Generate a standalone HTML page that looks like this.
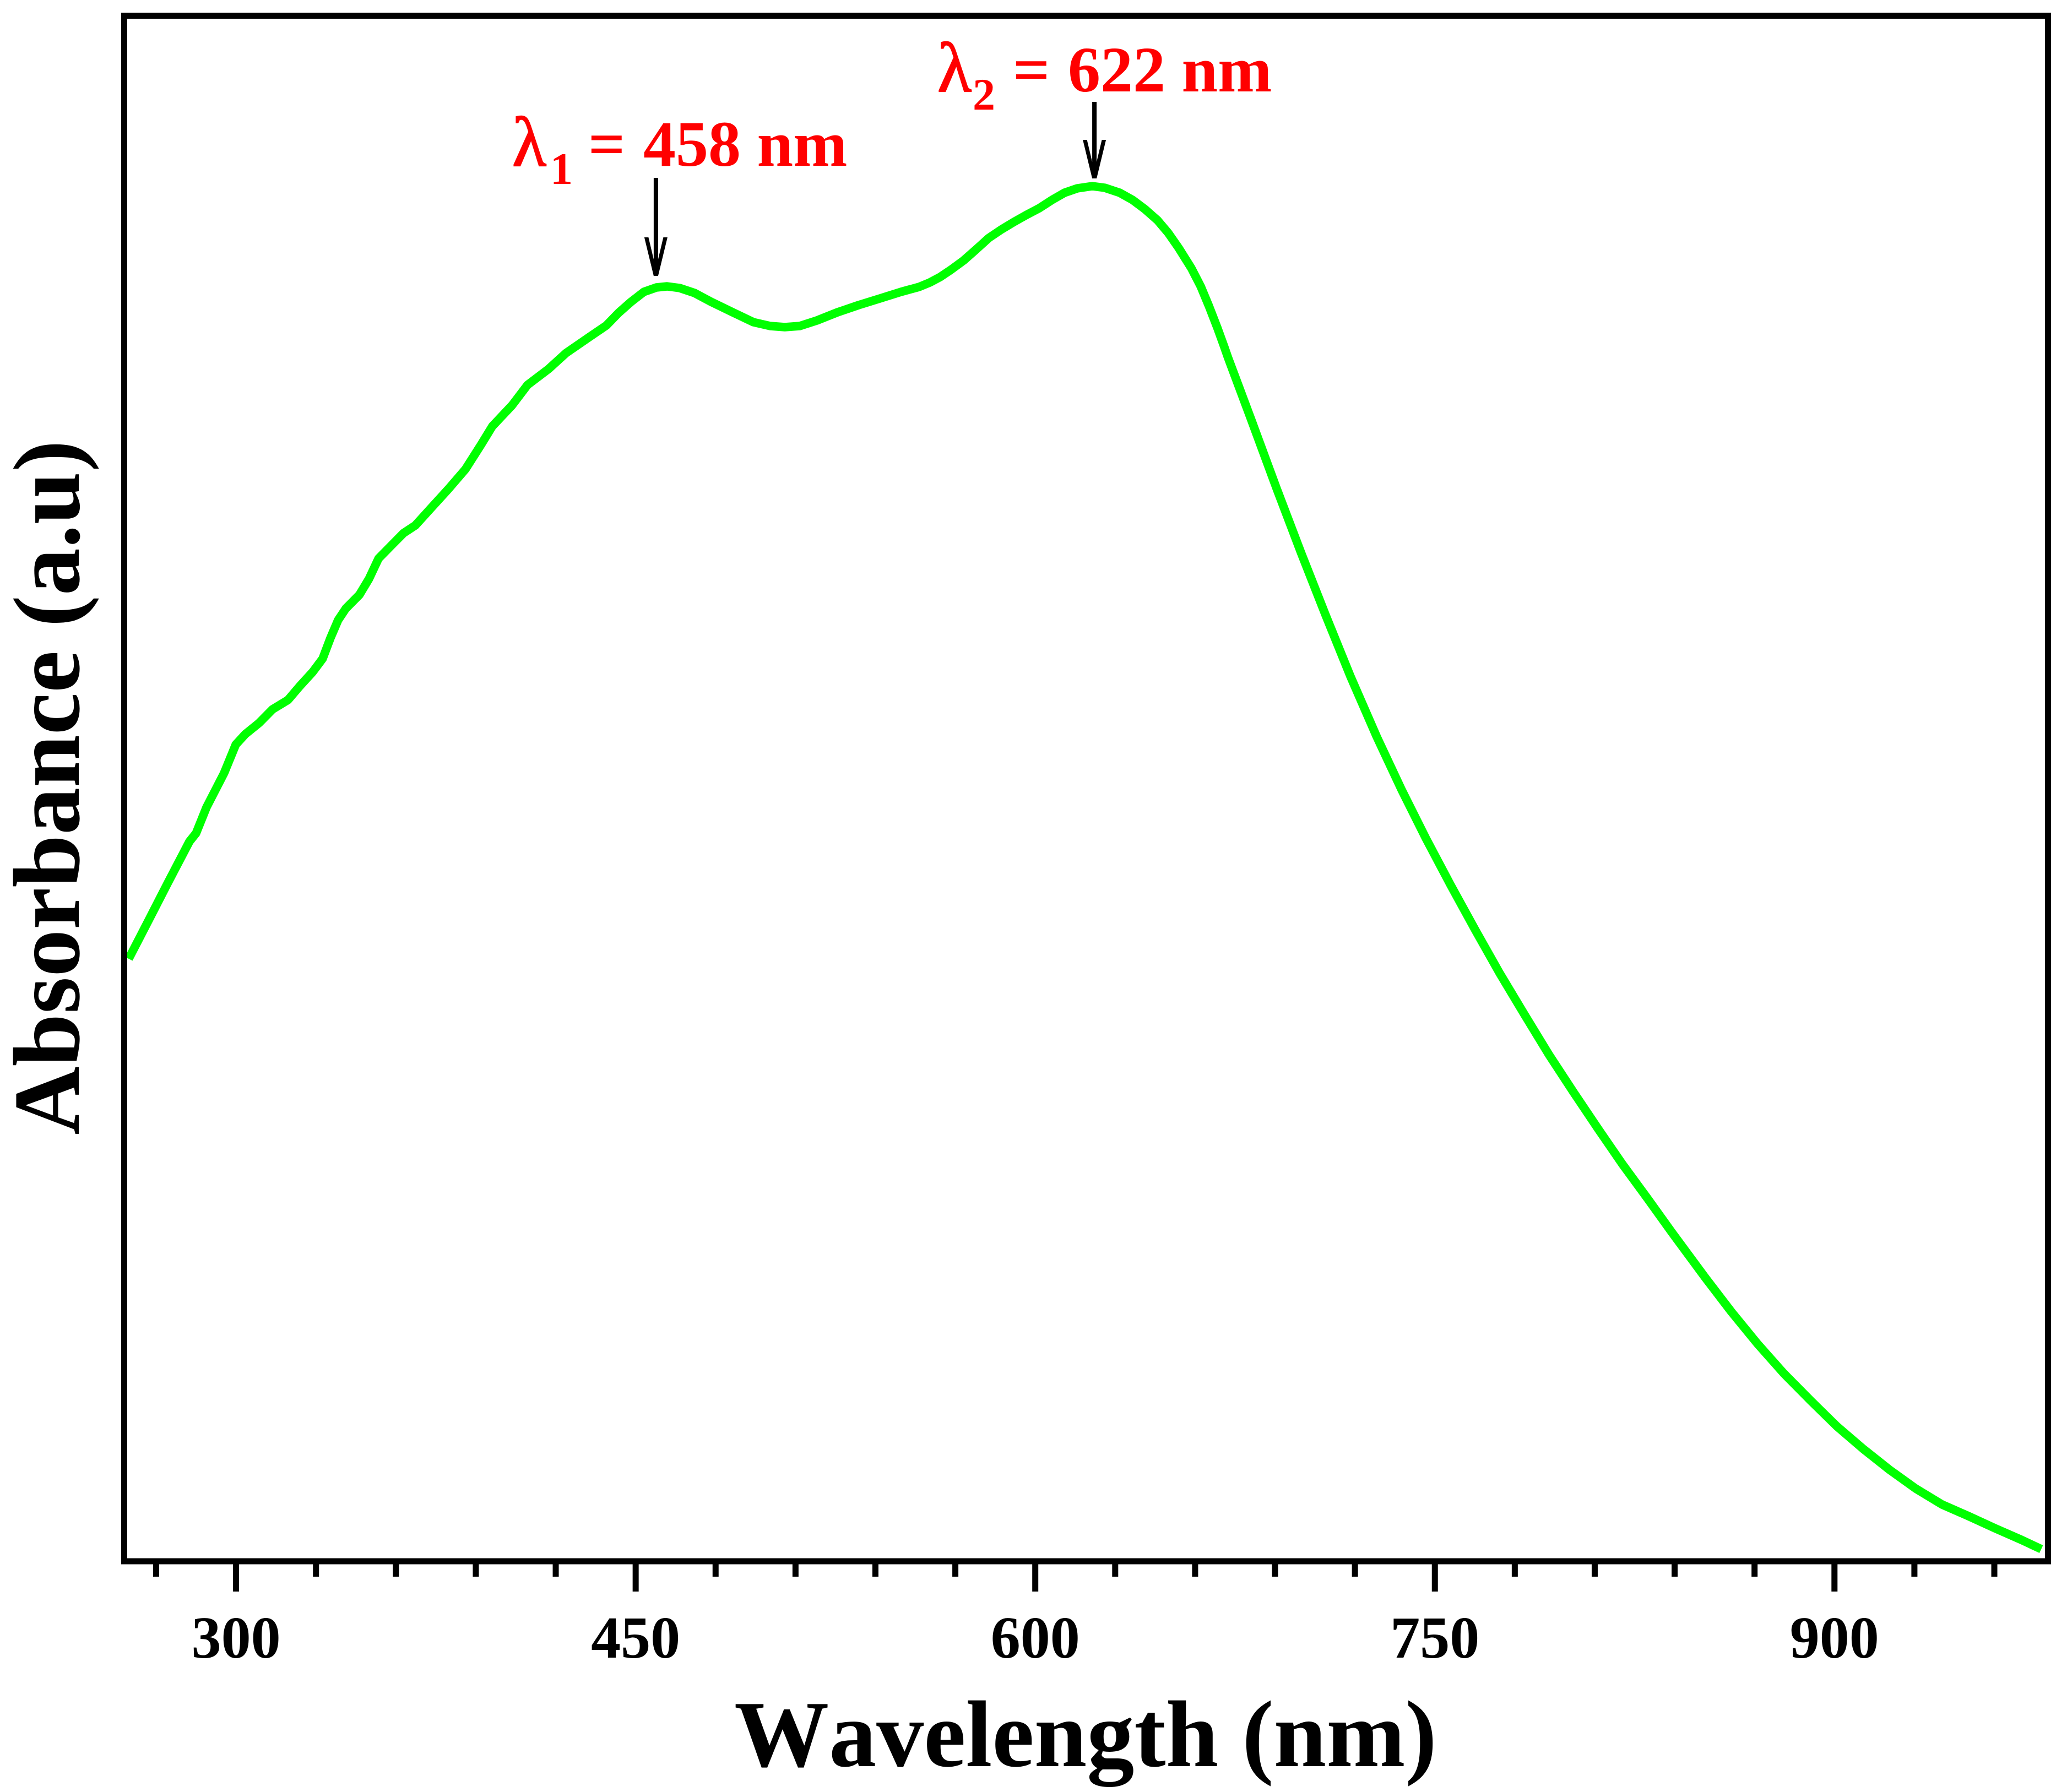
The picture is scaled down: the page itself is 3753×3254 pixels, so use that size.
<!DOCTYPE html>
<html lang="en">
<head>
<meta charset="utf-8">
<title>Absorbance spectrum</title>
<style>
html,body{margin:0;padding:0;background:#fff;}
svg{display:block;}
text{font-family:"Liberation Serif",serif;font-weight:bold;font-kerning:none;}
text.lambda{font-weight:normal;stroke:#f00;stroke-width:2;}
</style>
</head>
<body>
<svg id="chart" xmlns="http://www.w3.org/2000/svg" width="3753" height="3254" viewBox="0 0 3753 3254">
  <rect x="0" y="0" width="3753" height="3254" fill="#fff"/>
  <g id="marks"></g>
  <rect x="225.5" y="28.5" width="3493" height="2806.5" fill="none" stroke="#000" stroke-width="11"/>
  <g id="ticks"></g>
  <g id="annots"></g>
  <text x="1971" y="3207" font-size="172" text-anchor="middle" fill="#000">Wavelength (nm)</text>
  <text transform="translate(143,1430) rotate(-90)" x="0" y="0" font-size="172" text-anchor="middle" fill="#000">Absorbance (a.u)</text>
  <g fill="#f00">
    <text class="lambda" x="930" y="301" font-size="128" fill="#f00">λ</text>
    <text x="999" y="334" font-size="82" fill="#f00">1</text>
    <text x="1068" y="301" font-size="118" fill="#f00">=</text>
    <text x="1168" y="301" font-size="118" fill="#f00">458 nm</text>
  </g>
  <g fill="#f00">
    <text class="lambda" x="1702" y="166" font-size="128" fill="#f00">λ</text>
    <text x="1766" y="199" font-size="82" fill="#f00">2</text>
    <text x="1839" y="166" font-size="118" fill="#f00">=</text>
    <text x="1939" y="166" font-size="118" fill="#f00">622 nm</text>
  </g>
</svg>
<script>
const wavelengths = [259.7,267.2,274.4,282.5,285.0,288.9,295.5,299.9,303.5,308.6,313.7,319.5,323.9,328.8,332.5,335.4,338.3,341.2,346.3,349.9,353.5,358.6,362.9,367.3,373.1,379.7,386.1,391.9,396.2,403.6,409.4,417.3,423.9,432.6,439.0,443.6,448.3,453.1,457.8,461.8,466.5,472.1,478.3,486.4,494.2,500.5,506.0,511.6,518.0,525.8,533.7,541.7,549.6,556.4,560.4,564.3,568.3,573.1,577.8,582.6,587.2,592.0,596.8,601.5,606.3,611.0,615.8,621.4,626.1,631.7,636.5,641.2,645.9,649.9,653.8,658.6,662.1,665.2,668.4,670.8,672.4,675.1,681.3,690.6,699.8,709.0,718.3,728.2,737.5,746.6,755.9,765.2,774.3,783.6,792.8,802.0,811.3,820.4,829.8,839.0,851.5,861.3,871.1,881.0,891.0,900.9,910.8,920.7,930.5,940.4,950.3,960.2,970.1,977.6];
const absorbance = [1.094,1.164,1.232,1.307,1.322,1.369,1.431,1.483,1.502,1.522,1.547,1.564,1.589,1.615,1.639,1.676,1.709,1.730,1.755,1.784,1.821,1.846,1.867,1.881,1.912,1.947,1.983,2.027,2.061,2.099,2.136,2.165,2.194,2.223,2.244,2.267,2.287,2.305,2.313,2.315,2.312,2.303,2.287,2.268,2.250,2.243,2.241,2.243,2.253,2.268,2.281,2.293,2.305,2.314,2.322,2.332,2.345,2.362,2.382,2.403,2.418,2.432,2.445,2.457,2.472,2.485,2.493,2.497,2.494,2.485,2.472,2.455,2.435,2.412,2.385,2.348,2.315,2.279,2.239,2.207,2.185,2.150,2.070,1.948,1.831,1.718,1.607,1.497,1.401,1.313,1.228,1.146,1.068,0.993,0.920,0.852,0.785,0.721,0.659,0.597,0.515,0.453,0.395,0.341,0.292,0.245,0.204,0.166,0.132,0.103,0.082,0.060,0.039,0.022];
const majorTicks = [300,450,600,750,900];
const minorTicks = [270,330,360,390,420,480,510,540,570,630,660,690,720,780,810,840,870,930,960];
const arrowWavelengths = [457.6,622.2];
const arrowTips = [2.334,2.511];
const arrowLengths = [178,139];

function xScale(nm){ return 428.6 + (nm - 300) * 4.837; }
function yScale(a){ return 2835 - a * 1000; }

const NS = 'http://www.w3.org/2000/svg';
const marks = document.getElementById('marks');
const ticks = document.getElementById('ticks');
const annots = document.getElementById('annots');

const line = document.createElementNS(NS, 'polyline');


line.setAttribute('points', wavelengths.map((w, i) => xScale(w).toFixed(1) + ',' + yScale(absorbance[i]).toFixed(1)).join(' '));
line.setAttribute('fill', 'none');
line.setAttribute('stroke', '#00ff00');
line.setAttribute('stroke-width', '15.5');
line.setAttribute('stroke-linejoin', 'round');
marks.appendChild(line);

majorTicks.forEach(function (t) {
  const tick = document.createElementNS(NS, 'rect');
  
  
  tick.setAttribute('x', xScale(t) - 5.5);
  tick.setAttribute('y', 2840);
  tick.setAttribute('width', 11);
  tick.setAttribute('height', 50);
  ticks.appendChild(tick);
  const label = document.createElementNS(NS, 'text');
  
  
  label.setAttribute('x', xScale(t));
  label.setAttribute('y', 3010);
  label.setAttribute('font-size', 108);
  label.setAttribute('text-anchor', 'middle');
  label.textContent = String(t);
  ticks.appendChild(label);
});

minorTicks.forEach(function (t) {
  const tick = document.createElementNS(NS, 'rect');
  
  
  tick.setAttribute('x', xScale(t) - 5.5);
  tick.setAttribute('y', 2840);
  tick.setAttribute('width', 11);
  tick.setAttribute('height', 23);
  ticks.appendChild(tick);
});

arrowWavelengths.forEach(function (w, i) {
  const cx = xScale(w);
  const tipY = yScale(arrowTips[i]);
  const topY = tipY - arrowLengths[i];
  const headY = tipY - 70;
  const arrow = document.createElementNS(NS, 'polygon');
  
  
  arrow.setAttribute('points', [
    [cx - 4, topY], [cx + 4, topY], [cx + 4, tipY - 30], [cx + 13.5, headY], [cx + 21, headY],
    [cx + 4, tipY], [cx - 4, tipY], [cx - 21, headY], [cx - 13.5, headY], [cx - 4, tipY - 30]
  ].map(p => p[0].toFixed(1) + ',' + p[1].toFixed(1)).join(' '));
  arrow.setAttribute('fill', '#000');
  annots.appendChild(arrow);
});
</script>
</body>
</html>
